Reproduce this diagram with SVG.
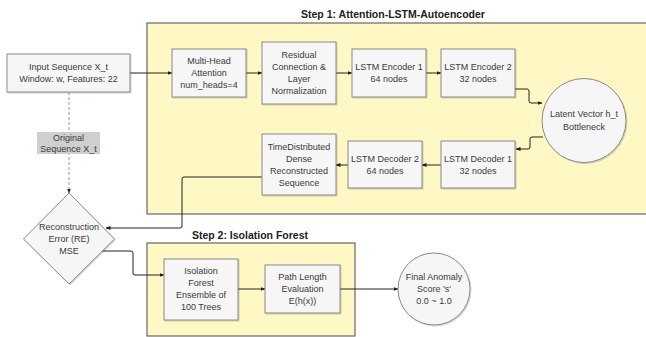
<svg xmlns="http://www.w3.org/2000/svg" width="646" height="337" viewBox="0 0 646 337">
<defs>
<marker id="ah" viewBox="0 0 10 10" refX="9" refY="5" markerWidth="5" markerHeight="5" orient="auto">
<path d="M0,1 L10,5 L0,9 z" fill="#222"/>
</marker>
<filter id="sh" x="-10%" y="-10%" width="130%" height="130%">
<feDropShadow dx="1" dy="1" stdDeviation="0.6" flood-color="#000" flood-opacity="0.18"/>
</filter>
</defs>
<style>
text{font-family:"Liberation Sans","Noto Sans",sans-serif;font-size:9px;fill:#3a3a3a;text-anchor:middle;dominant-baseline:central}
.t{font-weight:bold;font-size:10.5px;fill:#222}
.cl{fill:#fff8c5;stroke:#666;stroke-width:1.2}
.n{fill:#f6f6f6;stroke:#888;stroke-width:1;filter:url(#sh)}
.e{fill:none;stroke:#222;stroke-width:1;marker-end:url(#ah)}
.d{fill:none;stroke:#999;stroke-width:1;stroke-dasharray:3,2;marker-end:url(#ah)}
</style>
<g id="cluster1">
<rect class="cl" x="147" y="23" width="505" height="191"/>
<text class="t" x="393" y="14">Step 1: Attention-LSTM-Autoencoder</text>
</g>
<g id="cluster2">
<rect class="cl" x="147" y="243" width="208" height="93"/>
<text class="t" x="250" y="235">Step 2: Isolation Forest</text>
</g>
<g id="connectors">
<path class="e" d="M130,73 H172"/>
<path class="e" d="M246,73 H262"/>
<path class="e" d="M336,73 H352"/>
<path class="e" d="M426,73 H441"/>
<path class="e" d="M515,89 H527 Q529,89 529,91 V101 Q529,103 531,103 H542"/>
<path class="e" d="M543,137 H532 Q530,137 530,139 V147 Q530,149 528,149 H516"/>
<path class="e" d="M441,165 H422"/>
<path class="e" d="M348,165 H336"/>
<path class="e" d="M262,177 H184 Q182,177 182,179 V226 Q182,228 180,228 H106"/>
<path class="d" d="M69,92 V193"/>
<path class="e" d="M102,251 H131 Q133,251 133,253 V273 Q133,275 135,275 H164"/>
<path class="e" d="M238,289 H265"/>
<path class="e" d="M340,289 H398"/>
<g id="lbl">
<rect x="37" y="132" width="63" height="22" fill="#cfcfcf"/>
<text x="68.5" y="137.5">Original</text>
<text x="68.5" y="148.5">Sequence X_t</text>
</g>
</g>
<g id="input">
<rect class="n" x="7" y="54" width="123" height="38"/>
<text x="68.5" y="67">Input Sequence X_t</text>
<text x="68.5" y="79">Window: w, Features: 22</text>
</g>
<g id="mha">
<rect class="n" x="172" y="49" width="74" height="48"/>
<text x="209" y="61">Multi-Head</text>
<text x="209" y="73">Attention</text>
<text x="209" y="85">num_heads=4</text>
</g>
<g id="residual">
<rect class="n" x="262" y="42" width="74" height="62"/>
<text x="299" y="55">Residual</text>
<text x="299" y="67">Connection &amp;</text>
<text x="299" y="79">Layer</text>
<text x="299" y="91">Normalization</text>
</g>
<g id="enc1">
<rect class="n" x="352" y="49" width="74" height="48"/>
<text x="389" y="67">LSTM Encoder 1</text>
<text x="389" y="79">64 nodes</text>
</g>
<g id="enc2">
<rect class="n" x="441" y="49" width="74" height="48"/>
<text x="478" y="67">LSTM Encoder 2</text>
<text x="478" y="79">32 nodes</text>
</g>
<g id="latent">
<circle class="n" cx="584" cy="120.5" r="42"/>
<text x="584" y="114">Latent Vector h_t</text>
<text x="584" y="127">Bottleneck</text>
</g>
<g id="dec1">
<rect class="n" x="441" y="141" width="74" height="47"/>
<text x="478" y="159">LSTM Decoder 1</text>
<text x="478" y="171">32 nodes</text>
</g>
<g id="dec2">
<rect class="n" x="348" y="141" width="74" height="47"/>
<text x="385" y="159">LSTM Decoder 2</text>
<text x="385" y="171">64 nodes</text>
</g>
<g id="timedist">
<rect class="n" x="262" y="134" width="74" height="61"/>
<text x="299" y="147">TimeDistributed</text>
<text x="299" y="159">Dense</text>
<text x="299" y="171">Reconstructed</text>
<text x="299" y="183">Sequence</text>
</g>
<g id="re">
<polygon class="n" points="69,193 114.5,239 69,284 23.5,239"/>
<text x="69" y="227">Reconstruction</text>
<text x="69" y="239">Error (RE)</text>
<text x="69" y="251">MSE</text>
</g>
<g id="iso">
<rect class="n" x="164" y="259" width="74" height="61"/>
<text x="201" y="271">Isolation</text>
<text x="201" y="283">Forest</text>
<text x="201" y="295">Ensemble of</text>
<text x="201" y="307">100 Trees</text>
</g>
<g id="path">
<rect class="n" x="265" y="265" width="75" height="48"/>
<text x="302.5" y="277">Path Length</text>
<text x="302.5" y="289">Evaluation</text>
<text x="302.5" y="301">E(h(x))</text>
</g>
<g id="final">
<circle class="n" cx="434" cy="289" r="36"/>
<text x="434" y="277">Final Anomaly</text>
<text x="434" y="289">Score 's'</text>
<text x="434" y="301">0.0 ~ 1.0</text>
</g>
</svg>
